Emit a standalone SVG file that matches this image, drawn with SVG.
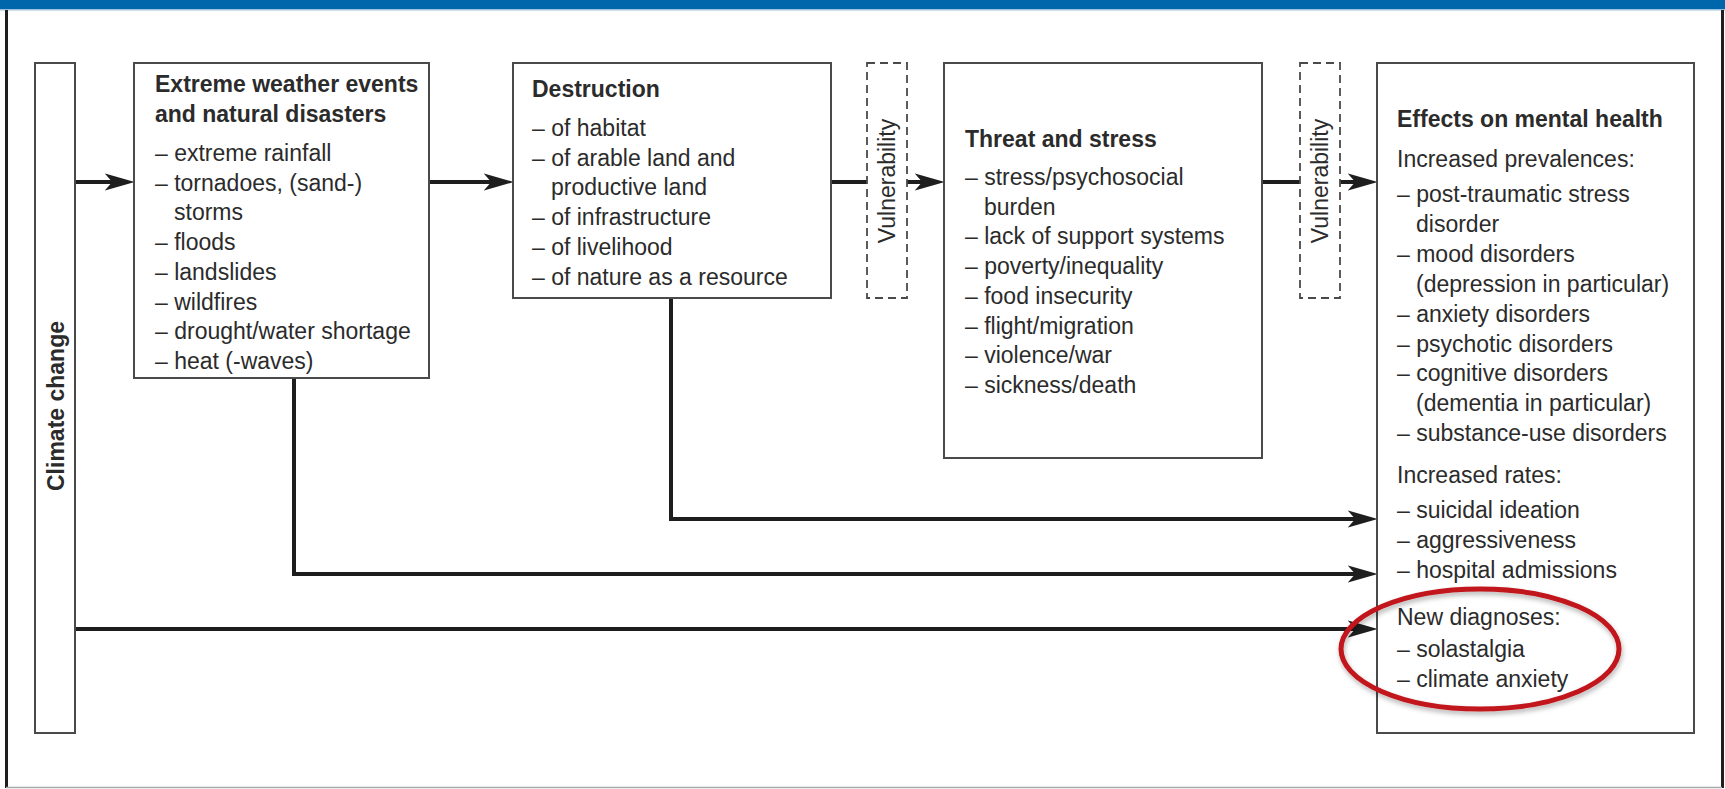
<svg xmlns="http://www.w3.org/2000/svg" width="1725" height="789" viewBox="0 0 1725 789">
<style>
  .box { fill: #ffffff; stroke: #4a4a4a; stroke-width: 2; }
  .vbox { fill: #ffffff; stroke: #4a4a4a; stroke-width: 1.8; stroke-dasharray: 8 5; }
  .conn { fill: none; stroke: #1e1e1e; stroke-width: 4; }
  .arr { marker-end: url(#arrow); }
  text { font-family: "Liberation Sans", Arial, Helvetica, sans-serif; font-size: 23px; fill: #2b2b2b; }
  .b { font-weight: bold; }
</style>
<defs>
  <marker id="arrow" markerUnits="userSpaceOnUse" markerWidth="30" markerHeight="18" viewBox="0 0 28 16" refX="18" refY="8" orient="auto">
    <path d="M0,0 L28,8 L0,16 L7,8 Z" fill="#1e1e1e"/>
  </marker>
  <filter id="shadow" x="-10%" y="-20%" width="120%" height="140%">
    <feDropShadow dx="1" dy="3" stdDeviation="2.5" flood-color="#000" flood-opacity="0.3"/>
  </filter>
</defs>
<rect x="0" y="0" width="1725" height="789" fill="#ffffff"/>
<g id="frame">
  <rect x="0" y="0" width="1725" height="9" fill="#0066ac"/>
  <rect x="0" y="9" width="1725" height="1.5" fill="#9cc1de"/>
  <line x1="6.5" y1="10" x2="6.5" y2="788" stroke="#1e1e1e" stroke-width="3"/>
  <line x1="1722.5" y1="10" x2="1722.5" y2="788" stroke="#1e1e1e" stroke-width="3"/>
  <line x1="6" y1="787.5" x2="1722" y2="787.5" stroke="#aaaaaa" stroke-width="1.5"/>
</g>
<g id="connectors">
  <path class="conn arr" d="M75,182 H124"/>
  <path class="conn arr" d="M429,182 H503"/>
  <path class="conn" d="M831,182 H867"/>
  <path class="conn arr" d="M907,182 H934"/>
  <path class="conn" d="M1262,182 H1300"/>
  <path class="conn arr" d="M1340,182 H1367"/>
  <path class="conn arr" d="M671,298 V519 H1367"/>
  <path class="conn arr" d="M294,378 V574 H1367"/>
  <path class="conn arr" d="M75,629 H1367"/>
</g>
<g id="climate-change">
  <rect class="box" x="35" y="63" width="40" height="670"/>
  <text class="b" x="64" y="406" text-anchor="middle" font-size="24.5" transform="rotate(-90 64 406)">Climate change</text>
</g>
<g id="extreme-weather">
  <rect class="box" x="134" y="63" width="295" height="315"/>
  <text class="b" x="155" y="92">Extreme weather events</text>
  <text class="b" x="155" y="122">and natural disasters</text>
  <text x="155" y="161">– extreme rainfall</text>
  <text x="155" y="190.7">– tornadoes, (sand-)</text>
  <text x="174" y="220.4">storms</text>
  <text x="155" y="250.1">– floods</text>
  <text x="155" y="279.8">– landslides</text>
  <text x="155" y="309.5">– wildfires</text>
  <text x="155" y="339.2">– drought/water shortage</text>
  <text x="155" y="368.9">– heat (-waves)</text>
</g>
<g id="destruction">
  <rect class="box" x="513" y="63" width="318" height="235"/>
  <text class="b" x="532" y="97">Destruction</text>
  <text x="532" y="136">– of habitat</text>
  <text x="532" y="165.7">– of arable land and</text>
  <text x="551" y="195.4">productive land</text>
  <text x="532" y="225.1">– of infrastructure</text>
  <text x="532" y="254.8">– of livelihood</text>
  <text x="532" y="284.5">– of nature as a resource</text>
</g>
<g id="vulnerability-1">
  <rect class="vbox" x="867" y="63" width="40" height="235"/>
  <text x="895" y="181" text-anchor="middle" transform="rotate(-90 895 181)">Vulnerability</text>
</g>
<g id="threat-stress">
  <rect class="box" x="944" y="63" width="318" height="395"/>
  <text class="b" x="965" y="147">Threat and stress</text>
  <text x="965" y="185">– stress/psychosocial</text>
  <text x="984" y="214.7">burden</text>
  <text x="965" y="244.4">– lack of support systems</text>
  <text x="965" y="274.1">– poverty/inequality</text>
  <text x="965" y="303.8">– food insecurity</text>
  <text x="965" y="333.5">– flight/migration</text>
  <text x="965" y="363.2">– violence/war</text>
  <text x="965" y="392.9">– sickness/death</text>
</g>
<g id="vulnerability-2">
  <rect class="vbox" x="1300" y="63" width="40" height="235"/>
  <text x="1328" y="181" text-anchor="middle" transform="rotate(-90 1328 181)">Vulnerability</text>
</g>
<g id="effects-mental-health">
  <rect class="box" x="1377" y="63" width="317" height="670"/>
  <text class="b" x="1397" y="127">Effects on mental health</text>
  <text x="1397" y="167">Increased prevalences:</text>
  <text x="1397" y="202">– post-traumatic stress</text>
  <text x="1416" y="232">disorder</text>
  <text x="1397" y="262">– mood disorders</text>
  <text x="1416" y="292">(depression in particular)</text>
  <text x="1397" y="322">– anxiety disorders</text>
  <text x="1397" y="352">– psychotic disorders</text>
  <text x="1397" y="381">– cognitive disorders</text>
  <text x="1416" y="411">(dementia in particular)</text>
  <text x="1397" y="441">– substance-use disorders</text>
  <text x="1397" y="483">Increased rates:</text>
  <text x="1397" y="518">– suicidal ideation</text>
  <text x="1397" y="548">– aggressiveness</text>
  <text x="1397" y="578">– hospital admissions</text>
  <text x="1397" y="625">New diagnoses:</text>
  <text x="1397" y="657">– solastalgia</text>
  <text x="1397" y="687">– climate anxiety</text>
</g>
<g id="highlight">
  <ellipse cx="1480" cy="649" rx="139" ry="60" fill="none" stroke="#c0141a" stroke-width="5" filter="url(#shadow)"/>
</g>
</svg>
